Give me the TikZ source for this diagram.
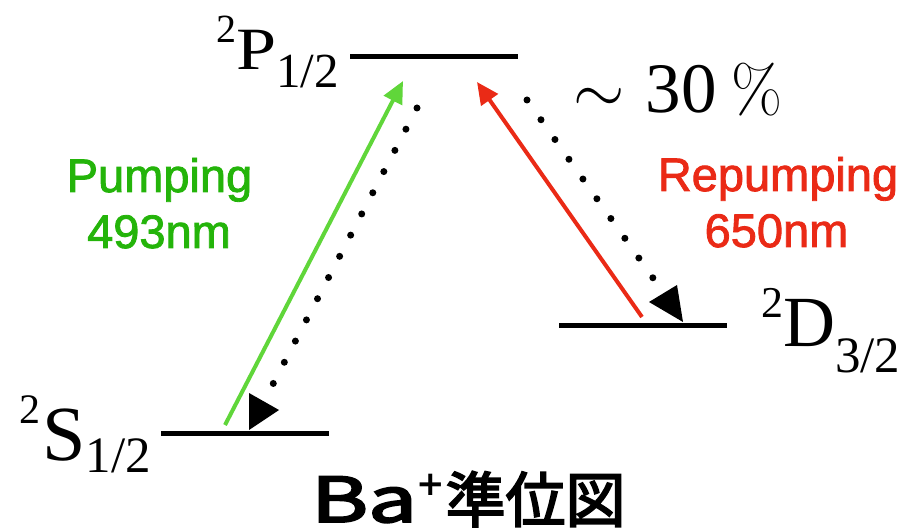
\RequirePackage{fix-cm}
\documentclass[tikz,border=0pt]{standalone}
\usepackage{fontspec}
\usepackage{graphicx}
\newfontfamily\tms{Liberation Serif}
\newfontfamily\lsans{Liberation Sans}[FakeBold=1.8]
\newfontfamily\dvs{DejaVu Sans}
\newfontfamily\jpt{Noto Sans CJK JP}[FakeBold=3]
\usetikzlibrary{arrows.meta}
\definecolor{pumpg}{RGB}{36,180,10}
\definecolor{arrowg}{RGB}{96,214,58}
\definecolor{repr}{RGB}{234,42,22}
\begin{document}
\begin{tikzpicture}[x=1pt,y=-1pt,
  level/.style={line width=5pt},
  lbl/.style={anchor=base west, inner sep=0pt, font=\tms},
  sanslbl/.style={anchor=base, inner sep=0pt, font=\lsans\fontsize{47}{47}\selectfont},
  laser/.style={line width=4pt},
  dotline/.style={line width=7pt, line cap=round},
  tri/.style={fill=black}]
\useasboundingbox (0,0) rectangle (905,529);
% levels
\coordinate (Pl) at (350,57); \coordinate (Pr) at (518,57);
\coordinate (Dl) at (559,326); \coordinate (Dr) at (727,326);
\coordinate (Sl) at (161,433); \coordinate (Sr) at (329,433);
\draw[level] (Pl) -- (Pr);
\draw[level] (Dl) -- (Dr);
\draw[level] (Sl) -- (Sr);
% level labels
\node[lbl] (Plab) at (216,70) {\fontsize{60}{60}\selectfont\raisebox{27pt}{\fontsize{40}{40}\selectfont 2}\scalebox{1.2}[1]{P}\raisebox{-18pt}{\fontsize{49}{49}\selectfont 1/2}};
\node[lbl] (Dlab) at (761,347) {\fontsize{72}{72}\selectfont\raisebox{29pt}{\fontsize{44}{44}\selectfont 2}D\raisebox{-25pt}{\fontsize{51}{51}\selectfont 3/2}};
\node[lbl] (Slab) at (19,460) {\fontsize{78}{78}\selectfont\raisebox{37pt}{\fontsize{42}{42}\selectfont 2}\hspace{2pt}S\raisebox{-12pt}{\fontsize{51}{51}\selectfont 1/2}};
% branching ratio
\node[lbl] (ratio) at (573,113) {\fontsize{66}{66}\selectfont$\sim$\hspace{21pt}{\fontsize{71}{71}\selectfont 30}\hspace{15pt}{\rmfamily\fontsize{66}{66}\selectfont\%}};
% laser arrows
\coordinate (gS) at (225,425); \coordinate (gP) at (403,81);
\coordinate (rD) at (642,317); \coordinate (rP) at (477,82);
\draw[laser, arrowg, -{Triangle[length=22pt,width=20pt]}] (gS) -- (gP);
\draw[laser, repr, -{Triangle[length=22pt,width=20pt]}] (rD) -- (rP);
% decay (dotted) arrows
\coordinate (d1s) at (417,108); \coordinate (d1e) at (273,384);
\coordinate (d2s) at (527,100); \coordinate (d2e) at (653,278);
\draw[dotline, dash pattern=on 0pt off 23.9pt] (d1s) -- (d1e);
\draw[dotline, dash pattern=on 0pt off 24.2pt] (d2s) -- (d2e);
\fill[tri] (249,393) -- (249,430) -- (279,410) -- cycle;
\fill[tri] (649,302) -- (677,285) -- (683,322) -- cycle;
% laser labels
\node[sanslbl, pumpg] (pump1) at (159.5,192) {Pumping};
\node[sanslbl, pumpg] (pump2) at (159,248) {493nm};
\node[sanslbl, repr] (rep1) at (778,191) {Repumping};
\node[sanslbl, repr] (rep2) at (776.5,247) {650nm};
% title
\node[anchor=base west, inner sep=0pt] (title) at (311,522) {\jpt\fontsize{62}{62}\selectfont\scalebox{1.4}[1]{Ba}\hspace{-1pt}\raisebox{27pt}{\dvs\bfseries\fontsize{34}{34}\selectfont +}\hspace{1pt}\jpt\fontsize{60}{60}\selectfont 準位図};
\end{tikzpicture}
\end{document}
